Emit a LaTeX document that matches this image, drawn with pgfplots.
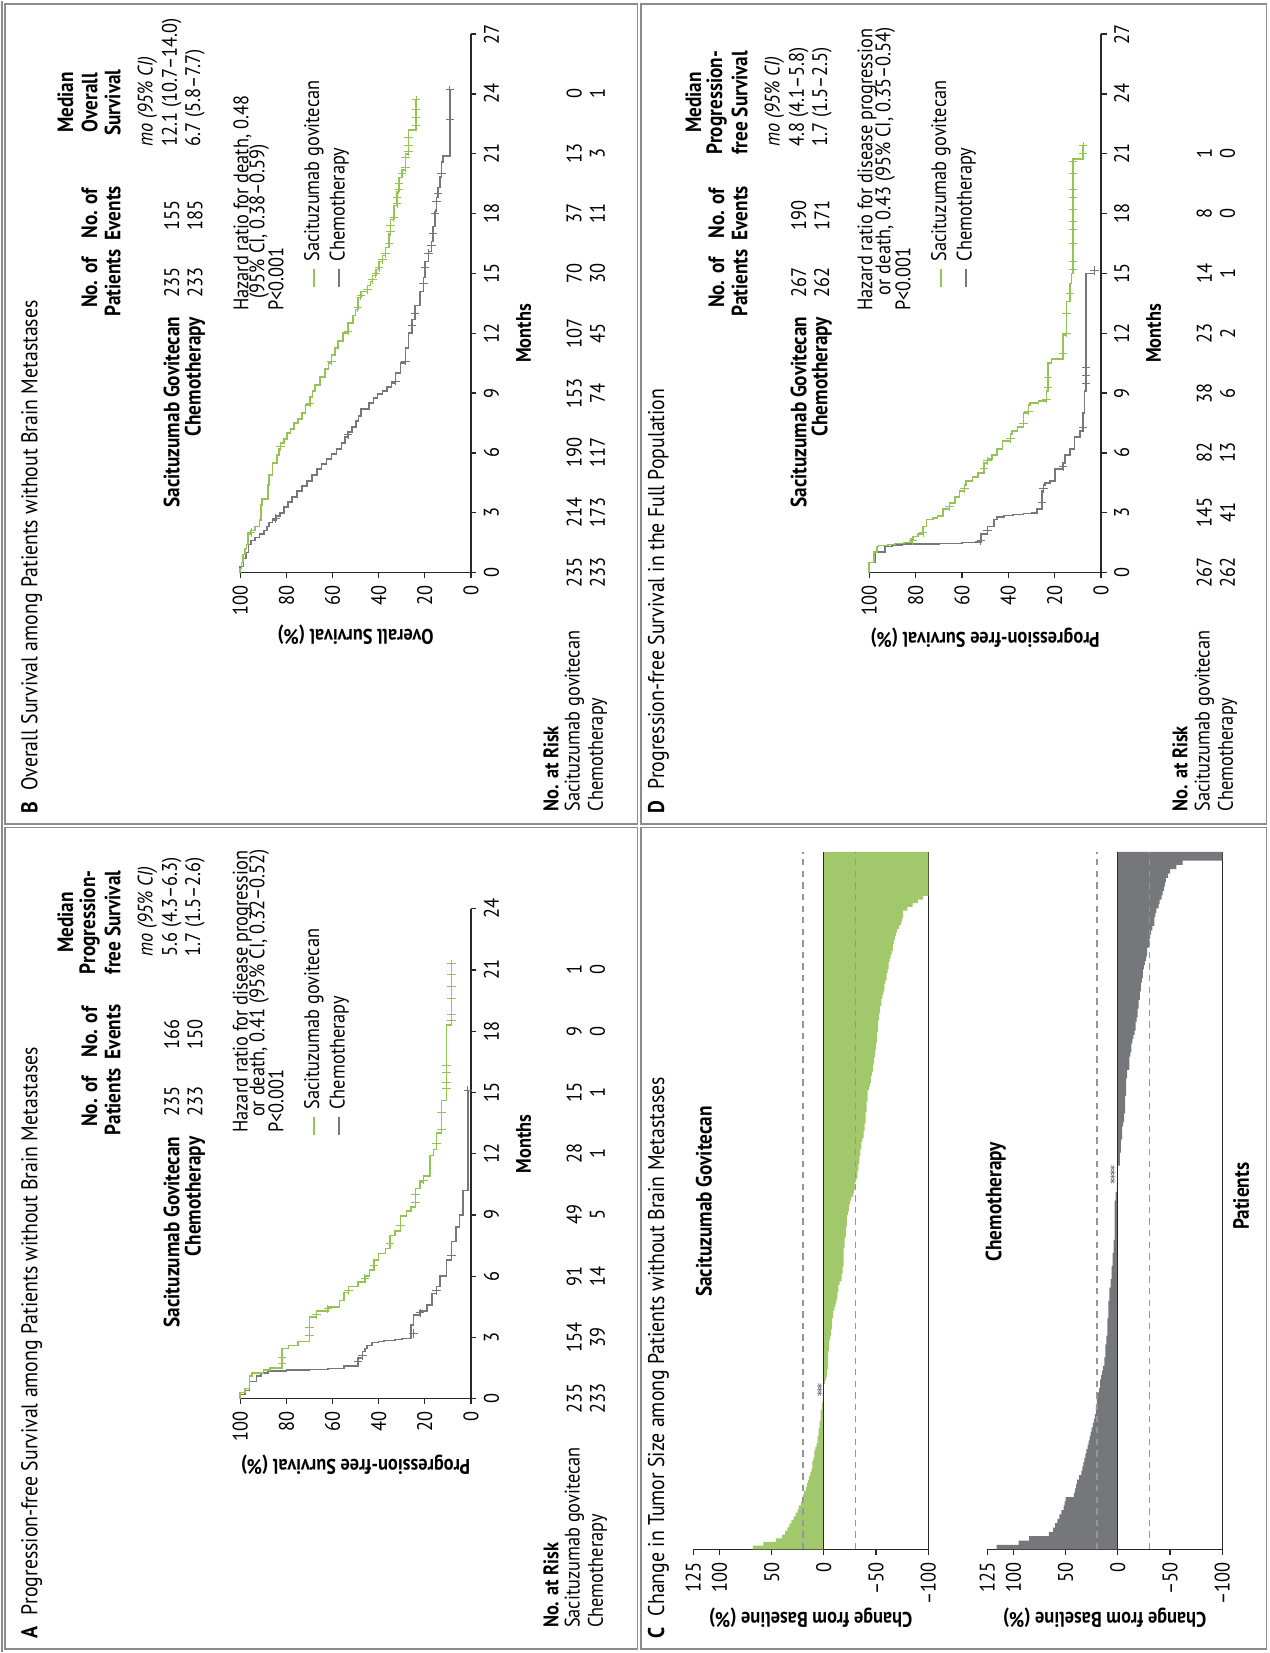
\documentclass[border=0pt]{standalone}
\usepackage{graphicx}
\usepackage{pgfplots}
\pgfplotsset{compat=1.18}
\usepackage{pgfplotstable}
\usepackage{fontspec}
\setmainfont{PT Sans}[FakeStretch=0.87]
\definecolor{sgreen}{RGB}{148,196,88}
\definecolor{sbar}{RGB}{161,200,106}
\definecolor{cgray}{RGB}{118,119,123}
\definecolor{fgray}{RGB}{140,140,140}
\definecolor{axc}{RGB}{40,40,40}
\definecolor{dgray}{RGB}{150,150,150}
\newcommand{\fs}{\fontsize{10}{12}\selectfont}
\newcommand{\fh}{\fontsize{10.5}{12.5}\selectfont}

\pgfplotstableread[row sep=\\]{v\\68\\58\\46\\40\\37\\35\\33\\31\\29\\27\\25\\24\\22\\21\\20\\19\\17\\16\\15\\14\\13\\12\\11\\11\\10\\9\\9\\8\\7\\6\\6\\5\\5\\4\\4\\3\\3\\3\\2\\2\\1\\1\\0\\0\\0\\-1\\-2\\-3\\-3\\-4\\-4\\-4\\-4\\-4\\-5\\-5\\-5\\-6\\-7\\-7\\-8\\-8\\-8\\-9\\-9\\-10\\-11\\-12\\-13\\-13\\-14\\-14\\-15\\-17\\-17\\-18\\-18\\-19\\-19\\-19\\-19\\-19\\-20\\-20\\-20\\-21\\-21\\-21\\-22\\-22\\-22\\-23\\-24\\-24\\-25\\-26\\-28\\-29\\-30\\-30\\-31\\-32\\-32\\-33\\-33\\-34\\-34\\-35\\-35\\-36\\-36\\-37\\-38\\-38\\-39\\-39\\-40\\-40\\-40\\-41\\-41\\-41\\-42\\-42\\-42\\-43\\-44\\-45\\-45\\-46\\-47\\-47\\-48\\-48\\-49\\-49\\-50\\-50\\-51\\-51\\-51\\-52\\-52\\-52\\-53\\-53\\-54\\-54\\-55\\-55\\-56\\-57\\-58\\-58\\-59\\-60\\-60\\-61\\-62\\-62\\-63\\-64\\-65\\-66\\-66\\-67\\-68\\-69\\-70\\-72\\-74\\-75\\-76\\-76\\-80\\-85\\-90\\-95\\-100\\-100\\-100\\-100\\-100\\-100\\-100\\-100\\-100\\-100\\-100\\-100\\}\sgtab

\pgfplotstableread[row sep=\\]{v\\116\\95\\85\\66\\62\\60\\58\\56\\54\\52\\51\\50\\42\\41\\40\\39\\37\\35\\34\\33\\32\\31\\30\\29\\28\\27\\26\\25\\24\\23\\22\\21\\21\\20\\20\\19\\18\\17\\17\\16\\15\\14\\13\\13\\12\\12\\12\\11\\11\\10\\10\\10\\10\\9\\9\\9\\9\\8\\8\\8\\7\\7\\6\\6\\6\\5\\5\\5\\4\\4\\4\\3\\3\\3\\3\\3\\3\\3\\3\\3\\2\\2\\1\\1\\0\\0\\0\\0\\-2\\-2\\-2\\-3\\-3\\-3\\-4\\-4\\-4\\-5\\-6\\-6\\-7\\-7\\-7\\-7\\-8\\-8\\-8\\-8\\-9\\-9\\-11\\-11\\-11\\-12\\-13\\-13\\-14\\-15\\-16\\-17\\-17\\-18\\-19\\-19\\-20\\-20\\-21\\-21\\-22\\-22\\-23\\-24\\-24\\-25\\-26\\-27\\-28\\-28\\-30\\-30\\-31\\-32\\-33\\-35\\-35\\-36\\-37\\-39\\-40\\-42\\-43\\-44\\-45\\-46\\-48\\-50\\-56\\-62\\-100\\-100\\}\chtab

\pgfplotsset{
  base/.style={scale only axis, anchor=south west, clip=false,
    axis lines=left, axis line style={-, axc, line width=0.6pt},
    tick align=outside, major tick length=2.6pt, tick style={axc, line width=0.6pt},
    ticklabel style={font=\fs},
    /pgf/number format/assume math mode=true,
    label style={font=\bfseries\fs}},
  km/.style={base, xmin=0, ymin=0, ymax=100, ytick={0,20,40,60,80,100}, xlabel={Months}},
  wf/.style={base, xmin=0.5, ymin=-100, ymax=125, width=331pt, height=111.5pt, xtick=\empty,
    ytick={-100,-50,0,50,100,125}, yticklabels={–100,–50,0,50,100,125},
    ylabel={Change from Baseline (\%)},
    ylabel style={at={(axis description cs:-0.098,0.5)}, anchor=center}},
  gcurve/.style={const plot, sgreen, line width=0.75pt},
  ccurve/.style={const plot, cgray, line width=0.75pt},
  gcens/.style={only marks, mark=+, mark size=2pt, sgreen, mark options={line width=0.45pt}},
  ccens/.style={only marks, mark=+, mark size=2pt, cgray, mark options={line width=0.45pt}},
}

\begin{document}
\rotatebox{90}{%
\begin{tikzpicture}[x=0.5pt, y=0.5pt,
  t/.style={font=\fs, inner sep=0pt}, tb/.style={font=\bfseries\fh, inner sep=0pt},
  tt/.style={font=\fontsize{10.8}{13}\selectfont, inner sep=0pt}]
\path (0,0) rectangle (1568,1205);
% frames
\draw[fgray, line width=0.9pt] (3,600) rectangle (783,1200);
\draw[fgray, line width=0.9pt] (786,600) rectangle (1565,1200);
\draw[fgray, line width=0.9pt] (3,3) rectangle (783,597);
\draw[fgray, line width=0.9pt] (786,3) rectangle (1565,597);
\draw[fgray, line width=0.9pt] (0.5,1203.5) -- (1567.5,1203.5);

% ================= Panel A =================
\node[tt, anchor=west] at (13,1175) {\bfseries A\enspace\mdseries Progression-free Survival among Patients without Brain Metastases};
\node[tb] at (693,1143) {Median};
\node[tb] at (693,1120) {Progression-};
\node[tb] at (693,1098) {free Survival};
\node[tb] at (523,1120) {No. of}; \node[tb] at (523,1098) {Patients};
\node[tb] at (589,1120) {No. of}; \node[tb] at (589,1098) {Events};
\node[t, anchor=west] at (660,1065) {\itshape mo (95\% CI)};
\node[tb, anchor=east] at (490,1042) {Sacituzumab Govitecan};
\node[tb, anchor=east] at (490,1020) {Chemotherapy};
\node[t] at (523,1042) {235}; \node[t] at (523,1020) {233};
\node[t] at (587,1042) {166}; \node[t] at (587,1020) {150};
\node[t, anchor=west] at (660,1042) {5.6 (4.3–6.3)};
\node[t, anchor=west] at (660,1020) {1.7 (1.5–2.6)};

\begin{axis}[km, at={(120.5pt,379pt)}, width=232.5pt, height=109.5pt, xmax=24, xtick={0,3,...,24},
  ylabel={Progression-free Survival (\%)},
  ylabel style={at={(axis description cs:-0.135,0.5)}, anchor=center},
  xlabel style={at={(axis description cs:0.52,-0.228)}, anchor=center}]
\addplot[ccurve] coordinates {(0,100) (0.2,98) (0.4,96) (0.85,93) (1.1,91) (1.27,88) (1.36,80) (1.4,70) (1.43,62) (1.47,55) (1.6,49) (2.0,47) (2.3,46) (2.45,45) (2.6,43) (2.75,40) (2.8,37.6) (2.85,33) (2.9,30) (2.95,26) (3.6,25) (4.1,22) (4.3,19) (4.6,17) (5.15,15) (5.5,13.5) (6.0,10.6) (6.8,8.5) (7.7,6.4) (8.4,5) (9.0,3.5) (10.2,1.4) (15.1,1.4)};
\addplot[ccens] coordinates {(1.8,49) (2.1,47) (3.2,25) (4.2,22) (5.3,15) (7.0,8.5) (15.1,1.4)};
\addplot[gcurve] coordinates {(0,100) (0.3,98) (0.5,96) (1.1,95) (1.25,90) (1.4,87) (1.5,82) (2.45,79) (2.6,75) (2.8,70) (4.0,67) (4.3,62) (4.5,57) (4.8,55) (5.2,53) (5.5,49) (5.7,46) (6.0,44) (6.3,42) (6.8,40) (7.1,37) (7.35,35) (8.0,33) (8.2,30.5) (8.95,28) (9.2,26) (9.4,24) (10.3,22) (10.6,20.6) (10.9,17.7) (11.9,16.3) (12.2,15) (13.0,12.8) (14.6,10.6) (18.3,8.5) (21.3,8.5)};
\addplot[gcens] coordinates {(1.7,82) (2.0,82) (3.1,70) (3.5,70) (4.1,67) (4.4,62) (5.3,53) (5.9,46) (6.5,42) (7.6,35) (8.5,30.5) (9.6,24) (10.0,24) (10.7,20.6) (12.5,15) (13.2,12.8) (14.0,12.8) (15.2,10.6) (15.5,10.6) (16.0,10.6) (16.3,10.6) (18.5,8.5) (18.8,8.5) (19.6,8.5) (20.2,8.5) (20.8,8.5) (21.3,8.5)};
\end{axis}

\node[t, anchor=west] at (493,975) {Hazard ratio for disease progression};
\node[t, anchor=west] at (508,959) {or death, 0.41 (95\% CI, 0.32–0.52)};
\node[t, anchor=west] at (493,943) {P<0.001};
\draw[sgreen, line width=0.8pt] (491,907) -- (508,907);
\node[t, anchor=west] at (515,907) {Sacituzumab govitecan};
\draw[cgray, line width=0.8pt] (491,883) -- (508,883);
\node[t, anchor=west] at (515,883) {Chemotherapy};

\node[font=\bfseries\fs, inner sep=0pt, anchor=west] at (23,682) {No. at Risk};
\node[t, anchor=west] at (23,660) {Sacituzumab govitecan};
\node[t, anchor=west] at (23,638) {Chemotherapy};
\foreach \u/\a/\b in {241/235/233, 299.1/154/39, 357.3/91/14, 415.4/49/5, 473.5/28/1, 531.6/15/1, 589.8/9/0, 647.9/1/0}{
  \node[t] at (\u,660) {\a}; \node[t] at (\u,638) {\b};}

% ================= Panel B =================
\node[tt, anchor=west] at (796,1175) {\bfseries B\enspace\mdseries Overall Survival among Patients without Brain Metastases};
\node[tb] at (1471,1143) {Median};
\node[tb] at (1471,1120) {Overall};
\node[tb] at (1471,1098) {Survival};
\node[tb] at (1300,1120) {No. of}; \node[tb] at (1300,1098) {Patients};
\node[tb] at (1366,1120) {No. of}; \node[tb] at (1366,1098) {Events};
\node[t, anchor=west] at (1429,1065) {\itshape mo (95\% CI)};
\node[tb, anchor=east] at (1268,1042) {Sacituzumab Govitecan};
\node[tb, anchor=east] at (1268,1020) {Chemotherapy};
\node[t] at (1300,1042) {235}; \node[t] at (1300,1020) {233};
\node[t] at (1364,1042) {155}; \node[t] at (1364,1020) {185};
\node[t, anchor=west] at (1429,1042) {12.1 (10.7–14.0)};
\node[t, anchor=west] at (1429,1020) {6.7 (5.8–7.7)};

\begin{axis}[km, at={(512.5pt,379pt)}, width=255.5pt, height=109.5pt, xmax=27, xtick={0,3,...,27},
  ylabel={Overall Survival (\%)},
  ylabel style={at={(axis description cs:-0.115,0.5)}, anchor=center},
  xlabel style={at={(axis description cs:0.444,-0.228)}, anchor=center}]
\addplot[ccurve] coordinates {(0,100) (0.3,98.5) (0.7,97.4) (1.0,96.5) (1.4,95.3) (1.6,93.5) (1.75,91.7) (1.94,89.6) (2.1,88.5) (2.3,87.5) (2.5,86) (2.65,84.6) (2.85,82.8) (3.0,81) (3.3,79.2) (3.55,77.5) (3.8,75.4) (4.1,73.3) (4.35,71.1) (4.6,69) (4.9,66.8) (5.2,64.7) (5.45,62.6) (5.7,60.5) (5.95,58.3) (6.2,56.2) (6.5,54.7) (6.8,53.3) (7.05,51.5) (7.3,49.8) (7.6,48.7) (7.85,47.7) (8.2,44.1) (8.5,42.3) (8.75,40.5) (8.95,38.4) (9.1,36.3) (9.3,34.5) (9.5,32.7) (10,30.6) (10.5,28.4) (11.25,27) (12,25.6) (12.7,24.2) (13.4,22) (14.1,20.6) (14.8,19.9) (15.6,18.5) (16.1,17.1) (16.6,16.4) (17.35,15.6) (18.1,14.9) (18.8,14.2) (19.3,13.5) (19.85,12.8) (20.6,12.1) (20.9,9.2) (24.2,9.2)};
\addplot[ccens] coordinates {(2.7,84.6) (6.9,53.3) (9.6,32.7) (10.6,28.4) (12.4,25.6) (13.0,24.2) (14.5,20.6) (15.3,19.9) (16.0,18.5) (16.4,17.1) (17.0,16.4) (18.0,15.6) (18.6,14.9) (19.0,14.2) (20.0,12.8) (22.7,9.2) (24.2,9.2)};
\addplot[gcurve] coordinates {(0,100) (0.2,99.5) (0.5,98.9) (0.9,98) (1.2,97.2) (1.4,96.7) (1.94,95.3) (2.1,93.5) (2.3,91.7) (2.65,91) (3.4,90.5) (3.7,88) (4.4,87.5) (4.9,86) (5.5,84) (5.9,83.2) (6.2,82.5) (6.5,81) (6.7,79.7) (7.0,78.2) (7.2,76.8) (7.5,75) (7.7,73.3) (8.0,71.8) (8.4,69.7) (8.8,68.6) (9.1,67.6) (9.4,65.5) (9.8,63.3) (10.2,61.8) (10.5,60.5) (10.9,59) (11.25,57.6) (11.6,55.4) (12,53.3) (12.5,51.2) (12.9,50.1) (13.2,49) (13.8,47.7) (14.1,44.8) (14.4,43.6) (14.6,42.7) (14.9,41.2) (15.2,39.8) (15.6,38.4) (15.9,37) (16.3,35.6) (17,34.9) (17.7,33.4) (18.4,32) (19.1,31.3) (19.8,29.9) (20.2,28.4) (21,27) (22.2,23.8) (23.7,23.8)};
\addplot[gcens] coordinates {(2.0,95.3) (6.3,82.5) (8.5,69.7) (10.6,60.5) (12.1,53.3) (13.3,49) (13.9,47.7) (14.2,44.8) (14.7,42.7) (15.0,41.2) (15.3,39.8) (15.7,38.4) (16.0,37) (16.5,35.6) (17.1,34.9) (17.4,34.9) (17.8,33.4) (18.5,32) (18.8,32) (19.2,31.3) (19.5,31.3) (20.0,29.9) (20.3,28.4) (20.8,28.4) (21.1,27) (21.4,27) (21.8,27) (22.4,23.8) (22.8,23.8) (23.2,23.8) (23.7,23.8)};
\end{axis}

\node[t, anchor=west] at (1273,975) {Hazard ratio for death, 0.48};
\node[t, anchor=west] at (1285,959) {(95\% CI, 0.38–0.59)};
\node[t, anchor=west] at (1273,943) {P<0.001};
\draw[sgreen, line width=0.8pt] (1296,907) -- (1313,907);
\node[t, anchor=west] at (1320,907) {Sacituzumab govitecan};
\draw[cgray, line width=0.8pt] (1296,883) -- (1313,883);
\node[t, anchor=west] at (1320,883) {Chemotherapy};

\node[font=\bfseries\fs, inner sep=0pt, anchor=west] at (798,682) {No. at Risk};
\node[t, anchor=west] at (798,660) {Sacituzumab govitecan};
\node[t, anchor=west] at (798,638) {Chemotherapy};
\foreach \u/\a/\b in {1025/235/233, 1081.8/214/173, 1138.6/190/117, 1195.3/153/74, 1252.1/107/45, 1308.9/70/30, 1365.7/37/11, 1422.4/13/3, 1479.2/0/1}{
  \node[t] at (\u,660) {\a}; \node[t] at (\u,638) {\b};}

% ================= Panel C =================
\node[tt, anchor=west] at (13,580) {\bfseries C\enspace\mdseries Change in Tumor Size among Patients without Brain Metastases};
\node[tb] at (428,537) {Sacituzumab Govitecan};
\node[tb] at (428,260) {Chemotherapy};

\begin{axis}[wf, at={(49pt,162pt)}, xmax=190.5]
\addplot[ybar, bar width=1, fill=sbar, draw=none] table[x expr=\coordindex+1, y=v] {\sgtab};
\addplot[only marks, mark=asterisk, mark size=1.3pt, cgray, mark options={line width=0.3pt}] coordinates {(43,4) (44,4) (45,4)};
\draw[dgray, line width=0.6pt, dash pattern=on 3pt off 2.5pt] (axis cs:0.5,20) -- (axis cs:190.5,20);
\draw[dgray, line width=0.6pt, dash pattern=on 3pt off 2.5pt] (axis cs:0.5,-30) -- (axis cs:190.5,-30);
\draw[axc, line width=0.6pt] (axis cs:0.5,0) -- (axis cs:190.5,0);
\end{axis}

\begin{axis}[wf, at={(49pt,22.5pt)}, xmax=160.5, xlabel={Patients},
  xlabel style={at={(axis description cs:0.506,-0.08)}, anchor=center, font=\bfseries\fh}]
\addplot[ybar, bar width=1, fill=cgray, draw=none] table[x expr=\coordindex+1, y=v] {\chtab};
\addplot[only marks, mark=asterisk, mark size=1.3pt, cgray, mark options={line width=0.3pt}] coordinates {(85,5) (86,5) (87,5) (88,5)};
\draw[dgray, line width=0.6pt, dash pattern=on 3pt off 2.5pt] (axis cs:0.5,20) -- (axis cs:160.5,20);
\draw[dgray, line width=0.6pt, dash pattern=on 3pt off 2.5pt] (axis cs:0.5,-30) -- (axis cs:160.5,-30);
\draw[axc, line width=0.6pt] (axis cs:0.5,0) -- (axis cs:160.5,0);
\end{axis}

% ================= Panel D =================
\node[tt, anchor=west] at (796,580) {\bfseries D\enspace\mdseries Progression-free Survival in the Full Population};
\node[tb] at (1471,547) {Median};
\node[tb] at (1471,525) {Progression-};
\node[tb] at (1471,503) {free Survival};
\node[tb] at (1300,525) {No. of}; \node[tb] at (1300,503) {Patients};
\node[tb] at (1366,525) {No. of}; \node[tb] at (1366,503) {Events};
\node[t, anchor=west] at (1429,470) {\itshape mo (95\% CI)};
\node[tb, anchor=east] at (1268,447) {Sacituzumab Govitecan};
\node[tb, anchor=east] at (1268,425) {Chemotherapy};
\node[t] at (1300,447) {267}; \node[t] at (1300,425) {262};
\node[t] at (1364,447) {190}; \node[t] at (1364,425) {171};
\node[t, anchor=west] at (1429,447) {4.8 (4.1–5.8)};
\node[t, anchor=west] at (1429,425) {1.7 (1.5–2.5)};

\begin{axis}[km, at={(512.5pt,80pt)}, width=255.5pt, height=110pt, xmax=27, xtick={0,3,...,27},
  ylabel={Progression-free Survival (\%)},
  ylabel style={at={(axis description cs:-0.121,0.5)}, anchor=center},
  xlabel style={at={(axis description cs:0.444,-0.227)}, anchor=center}]
\addplot[ccurve] coordinates {(0,100) (0.5,97.4) (1.04,93.2) (1.3,90.3) (1.38,86) (1.42,80) (1.44,70) (1.46,60) (1.5,54) (1.54,51.9) (1.94,49) (2.3,46.2) (2.65,44.8) (2.8,42) (2.87,38) (2.92,33.4) (2.96,30) (3.0,27.7) (3.2,25.6) (4.1,24.9) (4.4,24.2) (4.5,22) (4.6,19.9) (5.2,16.4) (5.5,15.6) (5.9,13.5) (6.2,11.4) (6.8,9.2) (7.1,7.8) (8,7.1) (9.1,6.4) (15.0,2.8) (15.15,2.8)};
\addplot[ccens] coordinates {(1.6,51.9) (2.1,49) (3.5,25.6) (4.2,24.9) (5.3,16.4) (7.3,7.8) (9.5,6.4) (9.9,6.4) (10.3,6.4) (15.15,2.8)};
\addplot[gcurve] coordinates {(0,100) (0.5,98) (1.04,96.7) (1.3,96) (1.35,92) (1.4,89) (1.45,85) (1.5,82) (1.67,81.2) (1.8,79) (1.94,76.8) (2.3,75.4) (2.65,72.5) (2.75,70.5) (2.83,68.3) (3.2,65.4) (3.5,63) (3.8,61) (4.1,59) (4.4,58.3) (4.6,55.5) (4.8,53) (5.0,50.5) (5.5,49) (5.7,47) (5.9,44.8) (6.2,42.5) (6.6,39.1) (6.95,38.4) (7.1,36) (7.3,33.4) (8,31.3) (8.4,30.6) (8.5,27) (8.6,23.5) (9.1,22.8) (10.5,21.3) (10.7,16.4) (11.9,14.9) (13.6,13.5) (14.5,12.8) (15,12.1) (20.75,7.8) (21.4,7.8)};
\addplot[gcens] coordinates {(1.6,81.2) (2.0,76.8) (3.3,65.4) (4.2,59) (5.2,50.5) (5.6,49) (6.7,39.1) (7.5,33.4) (8.1,31.3) (8.7,23.5) (9.3,22.8) (9.8,22.8) (11.0,16.4) (12.0,14.9) (13.0,14.9) (14.0,13.5) (15.2,12.1) (15.6,12.1) (16.5,12.1) (17.2,12.1) (17.6,12.1) (18.2,12.1) (18.8,12.1) (19.2,12.1) (20.0,12.1) (20.6,12.1) (21.0,7.8) (21.4,7.8)};
\end{axis}

\node[t, anchor=west] at (1273,382) {Hazard ratio for disease progression};
\node[t, anchor=west] at (1288,365) {or death, 0.43 (95\% CI, 0.35–0.54)};
\node[t, anchor=west] at (1273,348) {P<0.001};
\draw[sgreen, line width=0.8pt] (1296,312) -- (1313,312);
\node[t, anchor=west] at (1320,312) {Sacituzumab govitecan};
\draw[cgray, line width=0.8pt] (1296,288) -- (1313,288);
\node[t, anchor=west] at (1320,288) {Chemotherapy};

\node[font=\bfseries\fs, inner sep=0pt, anchor=west] at (798,85) {No. at Risk};
\node[t, anchor=west] at (798,62) {Sacituzumab govitecan};
\node[t, anchor=west] at (798,40) {Chemotherapy};
\foreach \u/\a/\b in {1025/267/262, 1081.8/145/41, 1138.6/82/13, 1195.3/38/6, 1252.1/23/2, 1308.9/14/1, 1365.7/8/0, 1422.4/1/0}{
  \node[t] at (\u,62) {\a}; \node[t] at (\u,40) {\b};}
\end{tikzpicture}}
\end{document}
